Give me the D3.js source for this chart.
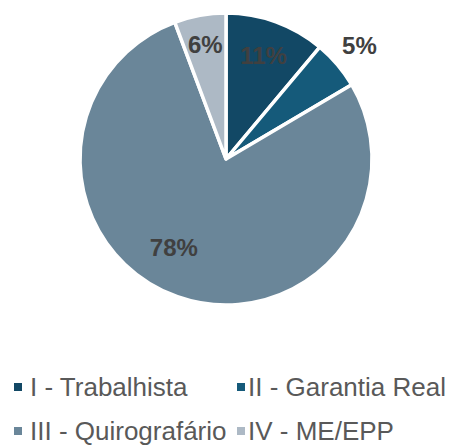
<!DOCTYPE html>
<html>
<head>
<meta charset="utf-8">
<script src="https://cdn.jsdelivr.net/npm/d3@7"></script>
<style>
  html, body { margin: 0; padding: 0; background: #fff; }
  svg { display: block; font-family: "Liberation Sans", Arial, sans-serif; }
</style>
</head>
<body>
<div id="chart"></div>
<script>
// data
const classes = ["I - Trabalhista", "II - Garantia Real", "III - Quirografário", "IV - ME/EPP"];
const shares = [11.1, 5.4, 77.8, 5.7];
const labels = ["11%", "5%", "78%", "6%"];
const colors = ["#124865", "#155a7a", "#6a8699", "#adb9c5"];

// label placement (radius in px, angle nudge in degrees)
const labelRadius = [110, 175, 103, 116];
const labelNudge = [0, 0, 11, 0];

const width = 451, height = 446;
const cx = 226, cy = 159, radius = 146;

const svg = d3.select("#chart")
  .append("svg")
    .attr("width", width)
    .attr("height", height);

const pie = d3.pie().sort(null).value(d => d.value);
const arcs = pie(classes.map((c, i) => ({ name: c, value: shares[i], i })));

const arc = d3.arc().innerRadius(0).outerRadius(radius);

const g = svg.append("g")
  .attr("transform", `translate(${cx},${cy})`);

g.selectAll("path")
  .data(arcs)
  .join("path")
    .attr("d", arc)
    .attr("fill", d => colors[d.data.i])
    .attr("stroke", "#fff")
    .attr("stroke-width", 3.5)
    .attr("stroke-linejoin", "round");

g.selectAll("text.lbl")
  .data(arcs)
  .join("text")
    .attr("class", "lbl")
    .attr("transform", d => {
      const a = (d.startAngle + d.endAngle) / 2 + labelNudge[d.data.i] * Math.PI / 180;
      const r = labelRadius[d.data.i];
      return `translate(${r * Math.sin(a)},${-r * Math.cos(a)})`;
    })
    .attr("text-anchor", "middle")
    .attr("dy", "0.36em")
    .attr("font-size", 24)
    .attr("font-weight", "bold")
    .attr("fill", "#404040")
    .text(d => labels[d.data.i]);

// legend, two columns
const legX = [14, 237];
const legY = [387, 431];

const leg = svg.append("g")
  .selectAll("g")
  .data(classes)
  .join("g")
    .attr("transform", (d, i) => `translate(${legX[i % 2]},${legY[Math.floor(i / 2)]})`);

leg.append("rect")
  .attr("x", 0)
  .attr("y", -4)
  .attr("width", 8)
  .attr("height", 8)
  .attr("fill", (d, i) => colors[i]);

leg.append("text")
  .attr("x", (d, i) => i % 2 ? 11 : 16)
  .attr("dy", "0.35em")
  .attr("font-size", 26)
  .attr("fill", "#595959")
  .text(d => d);
</script>
</body>
</html>
